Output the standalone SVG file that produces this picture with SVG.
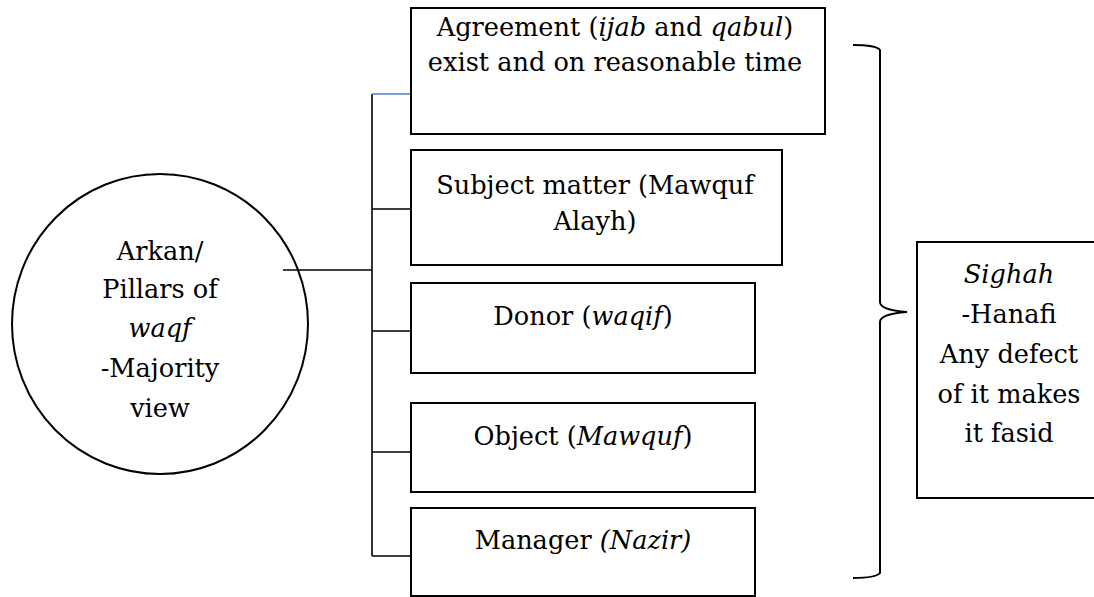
<svg xmlns="http://www.w3.org/2000/svg" width="1094" height="597" viewBox="0 0 1094 597">
<style>
.box{fill:#fff;stroke:#000;stroke-width:2}
.ln{fill:none;stroke:#000;stroke-width:1.6}
.t{font-family:"DejaVu Serif","Liberation Serif",serif;font-size:25.6px;fill:#000;text-anchor:middle}
.i{font-style:italic}
</style>
<rect width="1094" height="597" fill="#fff"/>
<g id="connectors">
<line class="ln" x1="283" y1="270" x2="372" y2="270"/>
<line class="ln" x1="372" y1="94" x2="372" y2="556"/>
<line x1="372" y1="94" x2="411" y2="94" stroke="#4f7fbf" stroke-width="1.6"/>
<line class="ln" x1="372" y1="209" x2="411" y2="209"/>
<line class="ln" x1="372" y1="331" x2="411" y2="331"/>
<line class="ln" x1="372" y1="452" x2="411" y2="452"/>
<line class="ln" x1="372" y1="556" x2="411" y2="556"/>
<path class="ln" style="stroke-width:2" d="M853 45 Q876 45 880 50 L880 302 Q880 310 907 312 Q880 314 880 322 L880 573 Q876 578 853 578"/>
</g>
<g id="circle">
<ellipse cx="160" cy="324" rx="148" ry="150" fill="none" stroke="#000" stroke-width="2"/>
<text class="t" x="160" y="260">Arkan/</text>
<text class="t" x="160" y="298">Pillars of</text>
<text class="t i" x="160" y="337">waqf</text>
<text class="t" x="160" y="377">-Majority</text>
<text class="t" x="160" y="417">view</text>
</g>
<g id="agreement">
<rect class="box" x="411" y="8" width="414" height="126"/>
<text class="t" x="615" y="36">Agreement (<tspan class="i">ijab</tspan> and <tspan class="i">qabul</tspan>)</text>
<text class="t" x="615" y="71">exist and on reasonable time</text>
</g>
<g id="subject">
<rect class="box" x="411" y="150" width="371" height="115"/>
<text class="t" x="595" y="194">Subject matter (Mawquf</text>
<text class="t" x="595" y="230">Alayh)</text>
</g>
<g id="donor">
<rect class="box" x="411" y="283" width="344" height="90"/>
<text class="t" x="583" y="325">Donor (<tspan class="i">waqif</tspan>)</text>
</g>
<g id="object">
<rect class="box" x="411" y="403" width="344" height="89"/>
<text class="t" x="583" y="445">Object (<tspan class="i">Mawquf</tspan>)</text>
</g>
<g id="manager">
<rect class="box" x="411" y="508" width="344" height="88"/>
<text class="t" x="583" y="549">Manager <tspan class="i">(Nazir)</tspan></text>
</g>
<g id="sighah">
<rect class="box" x="917" y="242" width="190" height="256"/>
<text class="t i" x="1009" y="283">Sighah</text>
<text class="t" x="1009" y="323">-Hanafi</text>
<text class="t" x="1009" y="363">Any defect</text>
<text class="t" x="1009" y="403">of it makes</text>
<text class="t" x="1009" y="442">it fasid</text>
</g>
</svg>
